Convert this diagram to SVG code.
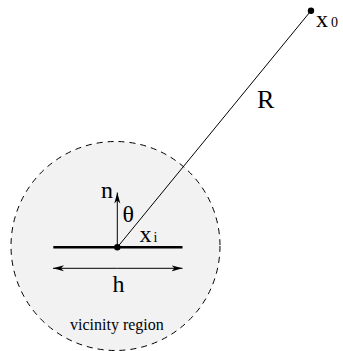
<svg xmlns="http://www.w3.org/2000/svg" width="343" height="351" viewBox="0 0 343 351">
<style>
text{font-family:'Liberation Serif','DejaVu Serif','Times New Roman',serif;fill:#000}
.thin{stroke:#000;stroke-width:1;fill:none}
</style>
<defs>
<marker id="ah" markerWidth="12" markerHeight="8" refX="11" refY="4" orient="auto" markerUnits="userSpaceOnUse">
<path d="M0,1 L11,4 L0,7 L3,4 Z" fill="#000" stroke="none"/>
</marker>
</defs>
<g id="region">
<circle cx="115.5" cy="246" r="104.5" fill="#f2f2f2" stroke="#000" stroke-width="1" stroke-dasharray="6,5"/>
<text x="70" y="330" font-size="16" font-family="Liberation Serif, serif">vicinity region</text>
</g>
<g id="connectors">
<line class="thin" x1="117.3" y1="247.3" x2="311" y2="10.7"/>
<line class="thin" x1="117.3" y1="247.3" x2="117.3" y2="192.5" marker-end="url(#ah)"/>
<line class="thin" x1="117.3" y1="268.3" x2="182.5" y2="268.3" marker-end="url(#ah)"/>
<line class="thin" x1="117.3" y1="268.3" x2="53" y2="268.3" marker-end="url(#ah)"/>
</g>
<g id="element">
<line x1="53.3" y1="247.3" x2="182.5" y2="247.3" stroke="#000" stroke-width="2.5"/>
<circle cx="117.3" cy="247.3" r="3.2" fill="#000"/>
<text x="139.5" y="241.7" font-size="24" font-family="Liberation Serif, serif">x<tspan font-size="14" dx="2">i</tspan></text>
<text x="101" y="198.3" font-size="24" font-family="Liberation Serif, serif">n</text>
<text x="122.5" y="222" font-size="24" font-family="Liberation Serif, serif">θ</text>
<text x="112.5" y="291.7" font-size="24" font-family="Liberation Serif, serif">h</text>
</g>
<g id="source">
<circle cx="311" cy="10.7" r="3.2" fill="#000"/>
<text x="316" y="26.7" font-size="24" font-family="Liberation Serif, serif">x<tspan font-size="14" dx="3">0</tspan></text>
<text x="257" y="108" font-size="26" font-family="Liberation Serif, serif">R</text>
</g>
</svg>
